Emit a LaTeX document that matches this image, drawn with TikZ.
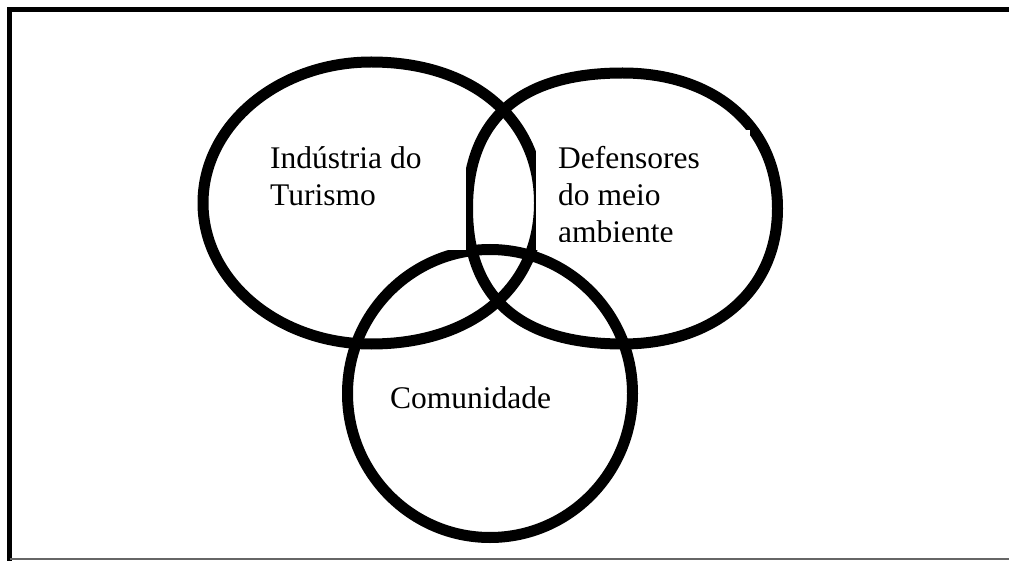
\documentclass[tikz,border=0pt]{standalone}
\usepackage{fontspec}
\setmainfont{Liberation Serif}
\begin{document}
\begin{tikzpicture}[x=1pt,y=-1pt,
    conjunto/.style={line width=11pt},
    caixa/.style={fill=white},
    rotulo/.style={font=\fontsize{31.5}{37}\selectfont,align=left,inner sep=0pt,anchor=base west}]
        \useasboundingbox (0,0) rectangle (1009,561);

        % Moldura
        \draw[line width=5.6pt] (9.5,561) -- (9.5,9.5) -- (1009,9.5);
        \draw[line width=1.6pt,black!60] (9.5,559.2) -- (1009,559.2);

        % Conjuntos
        \draw[conjunto] (539.5,203) .. controls (539.5,118.4) and (472.2,62) .. (371.25,62)
            .. controls (278.3,62) and (203,125.1) .. (203,203)
            .. controls (203,280.9) and (278.3,344) .. (371.25,344)
            .. controls (472.2,344) and (539.5,287.6) .. cycle;
        \draw[conjunto] (777.5,208.5) .. controls (777.5,127.2) and (715.5,73) .. (622.5,73)
            .. controls (520.2,73) and (467.5,119.1) .. (467.5,208.5)
            .. controls (467.5,297.9) and (520.2,344) .. (622.5,344)
            .. controls (715.5,344) and (777.5,289.8) .. cycle;
        \draw[conjunto] (490,393.5) ellipse [x radius=142.5, y radius=144];

        % Caixas de texto (brancas)
        \fill[caixa] (262,156) rectangle (466,250);
        \fill[caixa] (536,130) rectangle (750,250);

        % Rótulos
        \node[rotulo] (turismo) at (270,205.5) {Indústria do\\Turismo};
        \begin{scope}
            \clip (536,130) rectangle (750,241.5);
            \node[rotulo] (ambiente) at (558,242.5) {Defensores\\do meio\\ambiente};
        \end{scope}
        \node[rotulo] (comunidade) at (390,408) {Comunidade};
    \end{tikzpicture}
\end{document}
